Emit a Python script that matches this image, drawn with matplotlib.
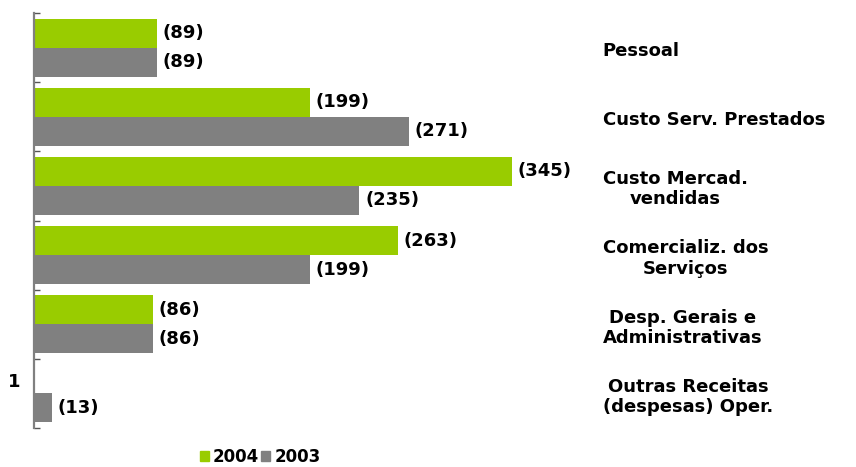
import matplotlib
matplotlib.use('Agg')
import matplotlib.pyplot as plt
from matplotlib.patches import Patch
import numpy as np

categories = ['Pessoal', 'Custo Serv. Prestados', 'Custo Mercad.\nvendidas',
              'Comercializ. dos\nServiços', 'Desp. Gerais e\nAdministrativas',
              'Outras Receitas\n(despesas) Oper.']
values_2004 = [89, 199, 345, 263, 86, 1]
values_2003 = [89, 271, 235, 199, 86, 13]
labels_2004 = ['(89)', '(199)', '(345)', '(263)', '(86)', '1']
labels_2003 = ['(89)', '(271)', '(235)', '(199)', '(86)', '(13)']

green = '#99CC00'
gray = '#808080'

W, H = 856, 467
fig = plt.figure(figsize=(W / 100, H / 100), dpi=100)
ax_left, ax_right, ax_top, ax_bot = 34, 600, 13, 428
ax = fig.add_axes([ax_left / W, 1 - ax_bot / H, (ax_right - ax_left) / W, (ax_bot - ax_top) / H])

y = np.arange(len(categories))
h = 0.42
ax.barh(y - h / 2, values_2004, height=h, color=green)
ax.barh(y + h / 2, values_2003, height=h, color=gray)

ax.set_xlim(0, (ax_right - ax_left) / 1.385)
ax.set_ylim(len(categories) - 0.5, -0.5)

font = dict(fontsize=13, fontweight='bold', family='DejaVu Sans')
for i in range(len(categories)):
    if labels_2004[i].startswith('('):
        ax.text(values_2004[i] + 4, y[i] - h / 2, labels_2004[i], va='center', ha='left', **font)
    else:
        ax.text(-10, y[i] - h / 2 + 0.05, labels_2004[i], va='center', ha='right', **font)
    ax.text(values_2003[i] + 4, y[i] + h / 2, labels_2003[i], va='center', ha='left', **font)
    ax.text(1.005, y[i] + 0.05, categories[i], transform=ax.get_yaxis_transform(),
            va='center', ha='left', multialignment='center', linespacing=1.15,
            clip_on=False, **font)

for s in ['top', 'right', 'bottom']:
    ax.spines[s].set_visible(False)
ax.spines['left'].set_color(gray)
ax.spines['left'].set_linewidth(1.6)
ax.set_xticks([])
ax.set_yticks(np.arange(len(categories) + 1) - 0.5)
ax.set_yticklabels([])
ax.tick_params(axis='y', direction='in', length=4, width=1, color='#555555')

handles = [Patch(color=green, label='2004'), Patch(color=gray, label='2003')]
fig.legend(handles=handles, loc='center', bbox_to_anchor=(260 / W, 1 - 457 / H), ncol=2,
           frameon=False, handlelength=0.55, handleheight=0.55, handletextpad=0.25,
           columnspacing=0.1, prop=dict(size=12, weight='bold', family='DejaVu Sans'))

fig.savefig('out.png', dpi=100)
